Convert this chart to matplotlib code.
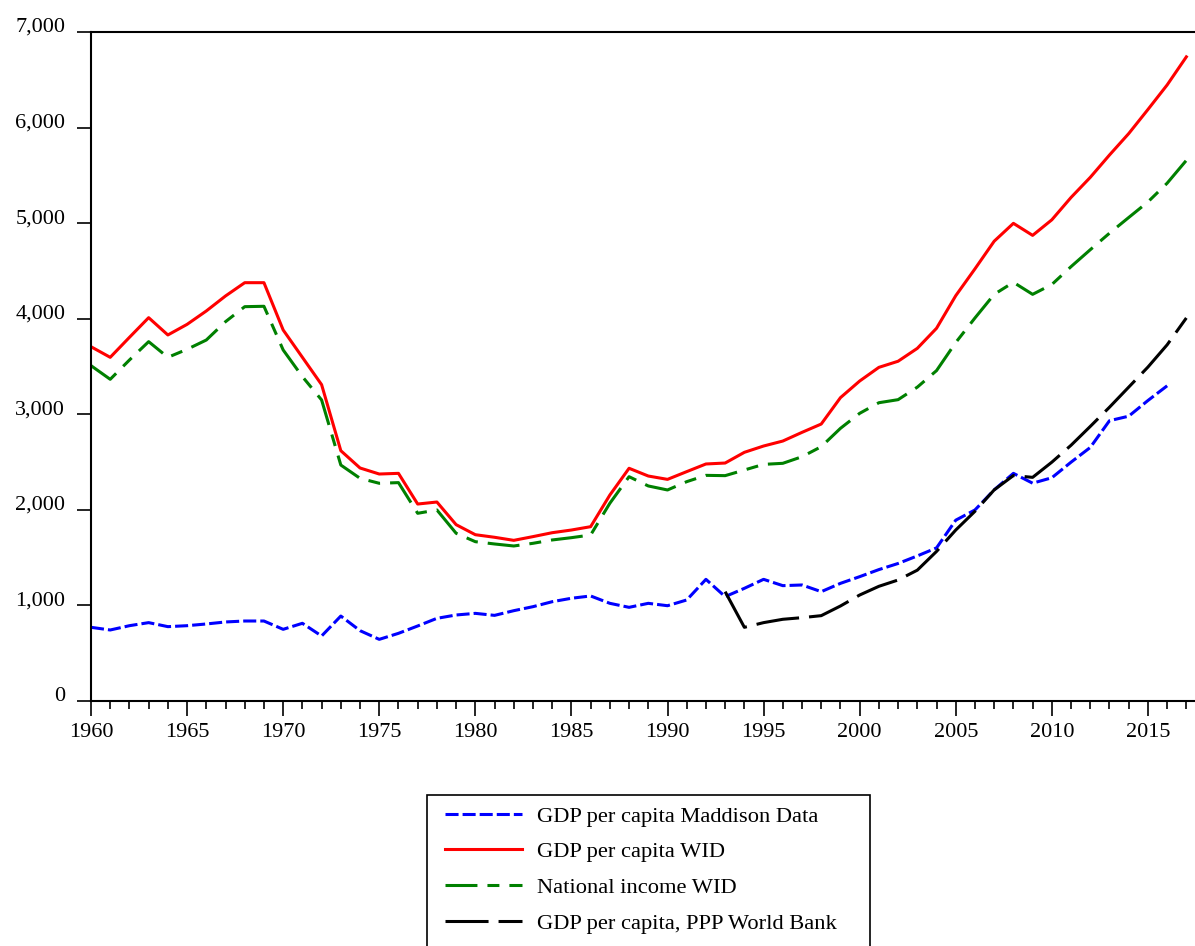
import matplotlib
matplotlib.use("Agg")
import matplotlib.pyplot as plt
from matplotlib.patches import Rectangle
from matplotlib.ticker import MultipleLocator, FuncFormatter

# values
years = list(range(1960, 2018))

gdp_wid = [3707, 3596, 3805, 4011, 3830, 3941, 4081, 4238, 4377, 4377,
           3882, 3596, 3310, 2619, 2438, 2375, 2382, 2061, 2082, 1845,
           1740, 1713, 1681, 1720, 1761, 1789, 1824, 2155, 2435, 2354,
           2319, 2400, 2480, 2490, 2602, 2668, 2720, 2811, 2898, 3174,
           3348, 3491, 3555, 3690, 3900, 4241, 4522, 4811, 4998, 4872,
           5035, 5269, 5479, 5713, 5937, 6189, 6446, 6740]

nat_income_wid = [3509, 3366, 3568, 3760, 3596, 3680, 3777, 3969, 4126, 4130,
                  3673, 3394, 3150, 2469, 2330, 2278, 2285, 1964, 1999, 1755,
                  1667, 1643, 1622, 1650, 1685, 1709, 1737, 2069, 2347, 2250,
                  2208, 2295, 2361, 2358, 2417, 2476, 2487, 2556, 2661, 2853,
                  3010, 3121, 3153, 3284, 3457, 3751, 4008, 4255, 4381, 4255,
                  4358, 4545, 4722, 4895, 5059, 5222, 5418, 5657]

maddison_years = list(range(1960, 2017))
maddison = [771, 743, 788, 820, 778, 788, 806, 827, 837, 837,
            750, 813, 680, 889, 736, 645, 708, 785, 865, 900,
            917, 896, 945, 987, 1039, 1075, 1099, 1022, 980, 1022,
            997, 1057, 1273, 1092, 1179, 1273, 1207, 1214, 1144, 1231,
            1301, 1375, 1439, 1518, 1602, 1892, 1999, 2209, 2382, 2279,
            2336, 2499, 2653, 2933, 2980, 3144, 3298]

wb_years = list(range(1993, 2018))
wb_ppp = [1144, 771, 820, 855, 872, 893, 994, 1109, 1200, 1266,
          1369, 1565, 1789, 1985, 2209, 2359, 2340, 2499, 2676, 2873,
          3074, 3284, 3494, 3727, 4008]

labels = ["GDP per capita Maddison Data", "GDP per capita WID",
          "National income WID", "GDP per capita, PPP World Bank"]

plt.rcParams['font.family'] = ['Liberation Serif', 'DejaVu Serif']
plt.rcParams['lines.scale_dashes'] = False

W, H = 1195, 946
fig = plt.figure(figsize=(W / 100, H / 100), dpi=100)
ax = fig.add_axes([91 / W, 1 - 701 / H, 1 - 91 / W, (701 - 32) / H])

lw = 2.2
ax.plot(maddison_years, maddison, color='#0000ff', lw=lw, dashes=(9.4, 2.9), label=labels[0])
ax.plot(years, gdp_wid, color='#ff0000', lw=lw, label=labels[1])
ax.plot(years, nat_income_wid, color='#008000', lw=lw, dashes=(23, 7.2, 8.6, 7.2), label=labels[2])
ax.plot(wb_years, wb_ppp, color='black', lw=lw, dashes=(31, 7.2), label=labels[3])

ax.set_xlim(1960, 2017.45)
ax.set_ylim(0, 7000)
ax.xaxis.set_major_locator(MultipleLocator(5))
ax.xaxis.set_minor_locator(MultipleLocator(1))
ax.yaxis.set_major_locator(MultipleLocator(1000))
ax.yaxis.set_major_formatter(FuncFormatter(lambda v, p: f"{int(v):,}"))

ax.spines['right'].set_visible(False)
for s in ['left', 'top', 'bottom']:
    ax.spines[s].set_linewidth(1.5)

ax.tick_params(axis='x', which='major', direction='out', length=10.8, width=1.2,
               pad=5, labelsize=16)
ax.tick_params(axis='x', which='minor', direction='out', length=5.8, width=1.2)
ax.tick_params(axis='y', which='major', direction='out', length=10, width=1.2,
               pad=8.5, labelsize=16)
for lab in ax.get_yticklabels():
    lab.set_va('baseline')

# legend box, its bottom edge is cut off by the image border
fig.patches.append(Rectangle((427 / W, -0.01), (870 - 427) / W, 1 - 795 / H + 0.01,
                             transform=fig.transFigure, fill=False,
                             edgecolor='black', lw=1.2))
fig.legend(loc='upper left', bbox_to_anchor=(445 / W, 1 - 806 / H),
           frameon=False, fontsize=16.2, handlelength=3.4, handletextpad=0.7,
           labelspacing=0.66, borderpad=0, borderaxespad=0)

fig.savefig("out.png", dpi=100)
